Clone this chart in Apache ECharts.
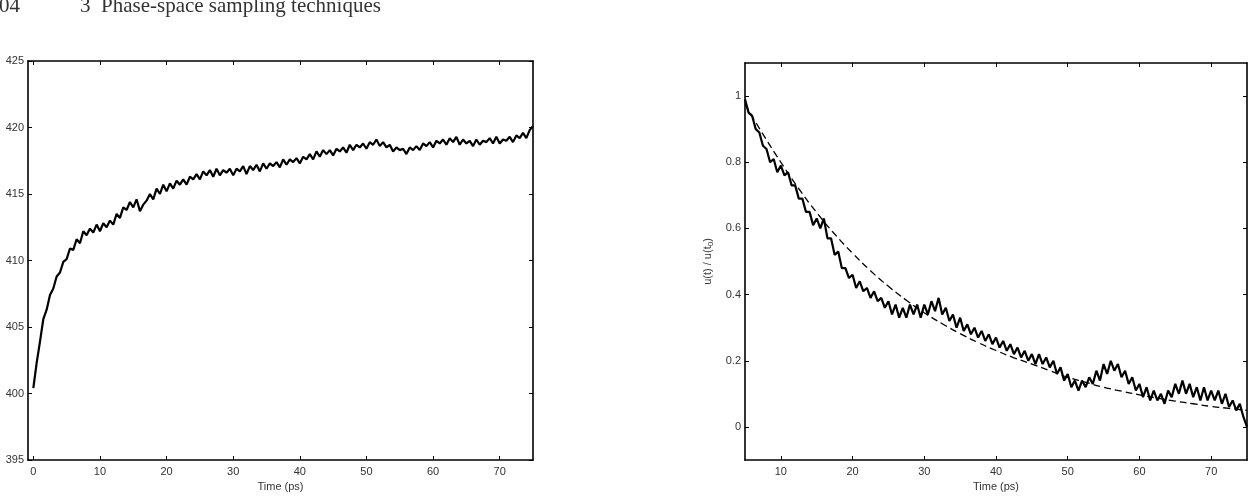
<!DOCTYPE html>
<html>
<head>
<meta charset="utf-8">
<script src="https://cdn.jsdelivr.net/npm/echarts@6.0.0/dist/echarts.min.js"></script>
<style>
  html, body { margin: 0; padding: 0; background: #fff; }
  #main { width: 1251px; height: 496px; }
</style>
</head>
<body>
<div id="main"></div>
<script>
// left panel: sampled every 0.5 ps from t = 0
const leftStart = 0;
const leftStep = 0.5;
const leftValues = [
  400.4, 402.3, 403.9, 405.6, 406.3, 407.4, 407.9, 408.8, 409.1, 409.9,
  410.1, 410.9, 410.8, 411.6, 411.3, 412.2, 411.9, 412.4, 412.1, 412.7,
  412.2, 412.8, 412.5, 413.0, 412.7, 413.5, 413.2, 414.0, 413.8, 414.4,
  414.0, 414.6, 413.7, 414.2, 414.5, 415.0, 414.6, 415.4, 415.0, 415.7,
  415.2, 415.8, 415.4, 416.0, 415.7, 416.1, 415.7, 416.3, 416.1, 416.5,
  416.1, 416.7, 416.4, 416.8, 416.3, 416.9, 416.4, 416.8, 416.6, 416.9,
  416.4, 416.9, 416.7, 417.1, 416.5, 417.1, 416.8, 417.2, 416.7, 417.3,
  416.9, 417.3, 417.1, 417.4, 417.0, 417.6, 417.2, 417.6, 417.4, 417.7,
  417.3, 417.8, 417.6, 418.0, 417.6, 418.2, 417.8, 418.3, 418.0, 418.3,
  417.9, 418.4, 418.2, 418.5, 418.1, 418.7, 418.3, 418.7, 418.5, 418.8,
  418.4, 418.9, 418.7, 419.1, 418.6, 418.9, 418.5, 418.7, 418.2, 418.5,
  418.3, 418.4, 418.0, 418.5, 418.3, 418.6, 418.3, 418.8, 418.6, 418.9,
  418.5, 419.0, 418.8, 419.1, 418.7, 419.2, 418.9, 419.3, 418.7, 419.1,
  418.8, 419.0, 418.6, 419.1, 418.7, 419.0, 418.9, 419.2, 418.8, 419.3,
  418.8, 419.1, 419.0, 419.3, 418.9, 419.4, 419.2, 419.6, 419.2, 419.8,
  420.1
];

// right panel: u(t)/u(t0), sampled every 0.5 ps from t = 5
const rightStart = 5;
const rightStep = 0.5;
const rightValues = [
  0.99, 0.95, 0.94, 0.90, 0.89, 0.85, 0.84, 0.80, 0.81, 0.77,
  0.79, 0.76, 0.77, 0.73, 0.73, 0.69, 0.69, 0.65, 0.65, 0.61,
  0.63, 0.60, 0.63, 0.57, 0.57, 0.52, 0.53, 0.48, 0.48, 0.45,
  0.46, 0.42, 0.44, 0.41, 0.42, 0.39, 0.41, 0.38, 0.39, 0.36,
  0.38, 0.34, 0.37, 0.33, 0.36, 0.33, 0.37, 0.34, 0.37, 0.33,
  0.37, 0.34, 0.38, 0.35, 0.39, 0.34, 0.36, 0.32, 0.34, 0.30,
  0.33, 0.29, 0.31, 0.28, 0.30, 0.27, 0.29, 0.26, 0.28, 0.25,
  0.27, 0.24, 0.26, 0.23, 0.25, 0.22, 0.24, 0.21, 0.23, 0.20,
  0.22, 0.19, 0.22, 0.19, 0.21, 0.18, 0.20, 0.16, 0.18, 0.14,
  0.16, 0.12, 0.14, 0.11, 0.14, 0.12, 0.15, 0.13, 0.17, 0.14,
  0.19, 0.16, 0.20, 0.17, 0.19, 0.15, 0.17, 0.13, 0.15, 0.11,
  0.13, 0.09, 0.12, 0.08, 0.11, 0.08, 0.10, 0.07, 0.11, 0.09,
  0.13, 0.10, 0.14, 0.10, 0.13, 0.09, 0.12, 0.08, 0.12, 0.08,
  0.11, 0.08, 0.11, 0.07, 0.10, 0.06, 0.08, 0.05, 0.07, 0.03,
  0.00
];

// exponential fit (dashed), every 2.5 ps from t = 5
const fitTimes = [5, 7.5, 10, 12.5, 15, 17.5, 20, 22.5, 25, 27.5, 30, 32.5, 35, 37.5, 40,
  42.5, 45, 47.5, 50, 52.5, 55, 57.5, 60, 62.5, 65, 67.5, 70, 72.5, 75];
const fitValues = [0.975, 0.885, 0.80, 0.72, 0.648, 0.583, 0.525, 0.472, 0.425, 0.383,
  0.345, 0.312, 0.282, 0.255, 0.231, 0.209, 0.19, 0.17, 0.15, 0.135,
  0.12, 0.108, 0.097, 0.087, 0.078, 0.07, 0.062, 0.056, 0.05];

const leftXTicks = [0, 10, 20, 30, 40, 50, 60, 70];
const rightXTicks = [10, 20, 30, 40, 50, 60, 70];
const rightYTicks = [0, 0.2, 0.4, 0.6, 0.8, 1];

const leftData = leftValues.map((v, i) => [leftStart + i * leftStep, v]);
const rightData = rightValues.map((v, i) => [rightStart + i * rightStep, v]);
const fitData = fitTimes.map((t, i) => [t, fitValues[i]]);

const font = 'Liberation Sans';
const lineStyle = { color: '#000', width: 1.6 };
const tick = { show: true, inside: true, length: 4, lineStyle: { color: '#000', width: 1 } };
const label = { fontFamily: font, fontSize: 11, color: '#333' };

function box(extra, ticks) {
  return Object.assign({
    type: 'value',
    axisLine: { show: true, onZero: false, lineStyle: lineStyle },
    axisTick: ticks ? Object.assign({}, tick, { customValues: ticks }) : tick,
    splitLine: { show: false }
  }, extra);
}

const headStyle = { fontFamily: 'Liberation Serif', fontSize: 21, fontWeight: 'normal', color: '#333' };

const myChart = echarts.init(document.getElementById('main'));
const option = {
  backgroundColor: '#fff',
  animation: false,
  title: [
    { text: '04', left: -1, top: -4, padding: 0, textStyle: headStyle },
    { text: '3  Phase-space sampling techniques', left: 80, top: -4, padding: 0, textStyle: headStyle }
  ],
  grid: [
    { left: 28, top: 61, width: 505, height: 399, outerBoundsMode: 'none' },
    { left: 745, top: 63, width: 502, height: 397, outerBoundsMode: 'none' }
  ],
  xAxis: [
    box({ gridIndex: 0, position: 'bottom', min: -0.8, max: 75,
      name: 'Time (ps)', nameLocation: 'middle', nameGap: 19,
      nameTextStyle: { fontFamily: font, fontSize: 11, color: '#333' },
      axisLabel: Object.assign({ margin: 6, customValues: leftXTicks }, label) }, leftXTicks),
    box({ gridIndex: 0, position: 'top', min: -0.8, max: 75,
      axisLabel: { show: false } }, leftXTicks),
    box({ gridIndex: 1, position: 'bottom', min: 5, max: 75,
      name: 'Time (ps)', nameLocation: 'middle', nameGap: 19,
      nameTextStyle: { fontFamily: font, fontSize: 11, color: '#333' },
      axisLabel: Object.assign({ margin: 6, customValues: rightXTicks }, label) }, rightXTicks),
    box({ gridIndex: 1, position: 'top', min: 5, max: 75,
      axisLabel: { show: false } }, rightXTicks)
  ],
  yAxis: [
    box({ gridIndex: 0, position: 'left', min: 395, max: 425, interval: 5,
      axisLabel: Object.assign({ margin: 4 }, label) }),
    box({ gridIndex: 0, position: 'right', min: 395, max: 425, interval: 5,
      axisLabel: { show: false } }),
    box({ gridIndex: 1, position: 'left', min: -0.1, max: 1.1,
      name: '{a|u(t) / u(t}{s|0}{a|)}', nameLocation: 'middle', nameGap: 30, nameRotate: 90,
      nameTextStyle: { color: '#333', rich: {
        a: { fontFamily: font, fontSize: 11, color: '#333' },
        s: { fontFamily: font, fontSize: 8, color: '#333', padding: [6, 0, 0, 0] }
      } },
      axisLabel: Object.assign({ margin: 4, customValues: rightYTicks }, label) }, rightYTicks),
    box({ gridIndex: 1, position: 'right', min: -0.1, max: 1.1,
      axisLabel: { show: false } }, rightYTicks)
  ],
  series: [
    { type: 'line', xAxisIndex: 0, yAxisIndex: 0, data: leftData, showSymbol: false,
      lineStyle: { color: '#000', width: 2.2 } },
    { type: 'line', xAxisIndex: 2, yAxisIndex: 2, data: rightData, showSymbol: false,
      lineStyle: { color: '#000', width: 2.2 } },
    { type: 'line', xAxisIndex: 2, yAxisIndex: 2, data: fitData, showSymbol: false, smooth: true,
      lineStyle: { color: '#000', width: 1.3, type: [7, 4] } }
  ]
};
myChart.setOption(option);
</script>
</body>
</html>
